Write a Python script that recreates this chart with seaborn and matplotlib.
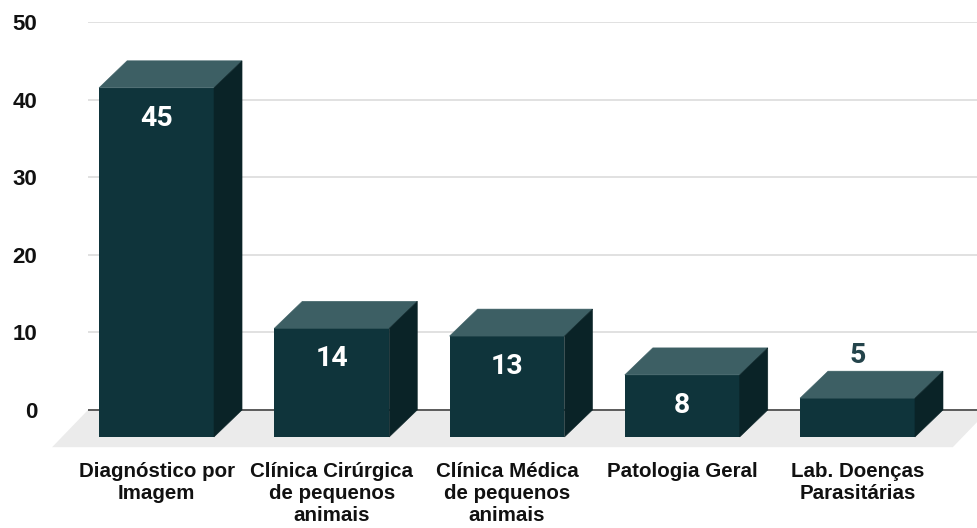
import matplotlib
matplotlib.use("Agg")
import matplotlib.pyplot as plt
import seaborn as sns
import pandas as pd
from matplotlib.patches import Polygon

# Data
categories = [
    "Diagnóstico por\nImagem",
    "Clínica Cirúrgica\nde pequenos\nanimais",
    "Clínica Médica\nde pequenos\nanimais",
    "Patologia Geral",
    "Lab. Doenças\nParasitárias",
]
values = [45, 14, 13, 8, 5]
y_ticks = [0, 10, 20, 30, 40, 50]

# Styling
FRONT = "#0f343b"
TOP = "#3d5f64"
SIDE = "#0a2327"
FLOOR = "#ebebeb"
GRID = "#d9d9d9"
BASE = "#444444"
LABEL_DARK = "#24444b"
TEXT = "#111111"

DEPTH_X = 0.16    # extrusion depth along the category axis
DEPTH_Y = 3.48    # extrusion depth along the value axis
FLOOR_X = 0.205
FLOOR_Y = 4.8
FLOOR_RIGHT_PAD = 0.544
BAR_WIDTH = 0.656
XLIM = (-0.391, 4.682)
INSIDE_MIN = 8    # bars at least this tall carry their label inside

sns.set_style("white")
plt.rcParams["font.family"] = ["Liberation Sans", "DejaVu Sans"]

fig = plt.figure(figsize=(9.77, 5.28), dpi=100)
ax = fig.add_axes([88 / 977, 1 - 447.2 / 528, 889 / 977, 425.2 / 528])

df = pd.DataFrame({"area": categories, "n": values})
sns.barplot(data=df, x="area", y="n", width=BAR_WIDTH, color=FRONT,
            saturation=1, ax=ax, zorder=3, linewidth=0)
bars = list(ax.patches)

ax.set_xlim(*XLIM)
ax.set_ylim(-FLOOR_Y, 50)
ax.set_yticks(y_ticks)
ax.yaxis.grid(True, color=GRID, lw=1.1, zorder=0)
ax.set_axisbelow(True)
for s in ax.spines.values():
    s.set_visible(False)

# Floor under the bars
floor_right = len(values) - 1 + FLOOR_RIGHT_PAD
ax.add_patch(Polygon([(XLIM[0] - FLOOR_X, -FLOOR_Y), (floor_right, -FLOOR_Y),
                      (floor_right + FLOOR_X, 0), (XLIM[0], 0)],
                     closed=True, facecolor=FLOOR, edgecolor="none",
                     zorder=1, clip_on=False))
ax.axhline(0, color=BASE, lw=1.2, zorder=1.5)

# Extrude each bar: shift the front face forward, add top and side faces
for bar, v in zip(bars, values):
    x0, w, h = bar.get_x(), bar.get_width(), bar.get_height()
    bar.set_y(-DEPTH_Y)
    bar.set_clip_on(False)
    top = [(x0, h - DEPTH_Y), (x0 + w, h - DEPTH_Y),
           (x0 + w + DEPTH_X, h), (x0 + DEPTH_X, h)]
    side = [(x0 + w, -DEPTH_Y), (x0 + w + DEPTH_X, 0),
            (x0 + w + DEPTH_X, h), (x0 + w, h - DEPTH_Y)]
    ax.add_patch(Polygon(top, closed=True, facecolor=TOP, edgecolor=TOP,
                         lw=0.4, zorder=3, clip_on=False))
    ax.add_patch(Polygon(side, closed=True, facecolor=SIDE, edgecolor=SIDE,
                         lw=0.4, zorder=3, clip_on=False))

    cx = x0 + w / 2
    if v >= INSIDE_MIN:
        ax.annotate(str(v), (cx, h - DEPTH_Y), xytext=(0, -22),
                    textcoords="offset points", ha="center", va="center",
                    color="white", fontsize=20.5, fontweight="bold",
                    family=["Roboto", "DejaVu Sans"], zorder=5)
    else:
        ax.annotate(str(v), (cx, h), xytext=(0, 11),
                    textcoords="offset points", ha="center", va="center",
                    color=LABEL_DARK, fontsize=20.5, fontweight="bold",
                    family=["Roboto", "DejaVu Sans"], zorder=5)

ax.set_xlabel("")
ax.set_ylabel("")
ax.tick_params(axis="both", length=0)
ax.tick_params(axis="y", pad=36.7, labelsize=16, labelcolor=TEXT)
ax.tick_params(axis="x", pad=11, labelsize=14.8, labelcolor=TEXT)
for lbl in ax.get_yticklabels() + ax.get_xticklabels():
    lbl.set_fontweight("bold")

fig.savefig("out.png", dpi=100)
